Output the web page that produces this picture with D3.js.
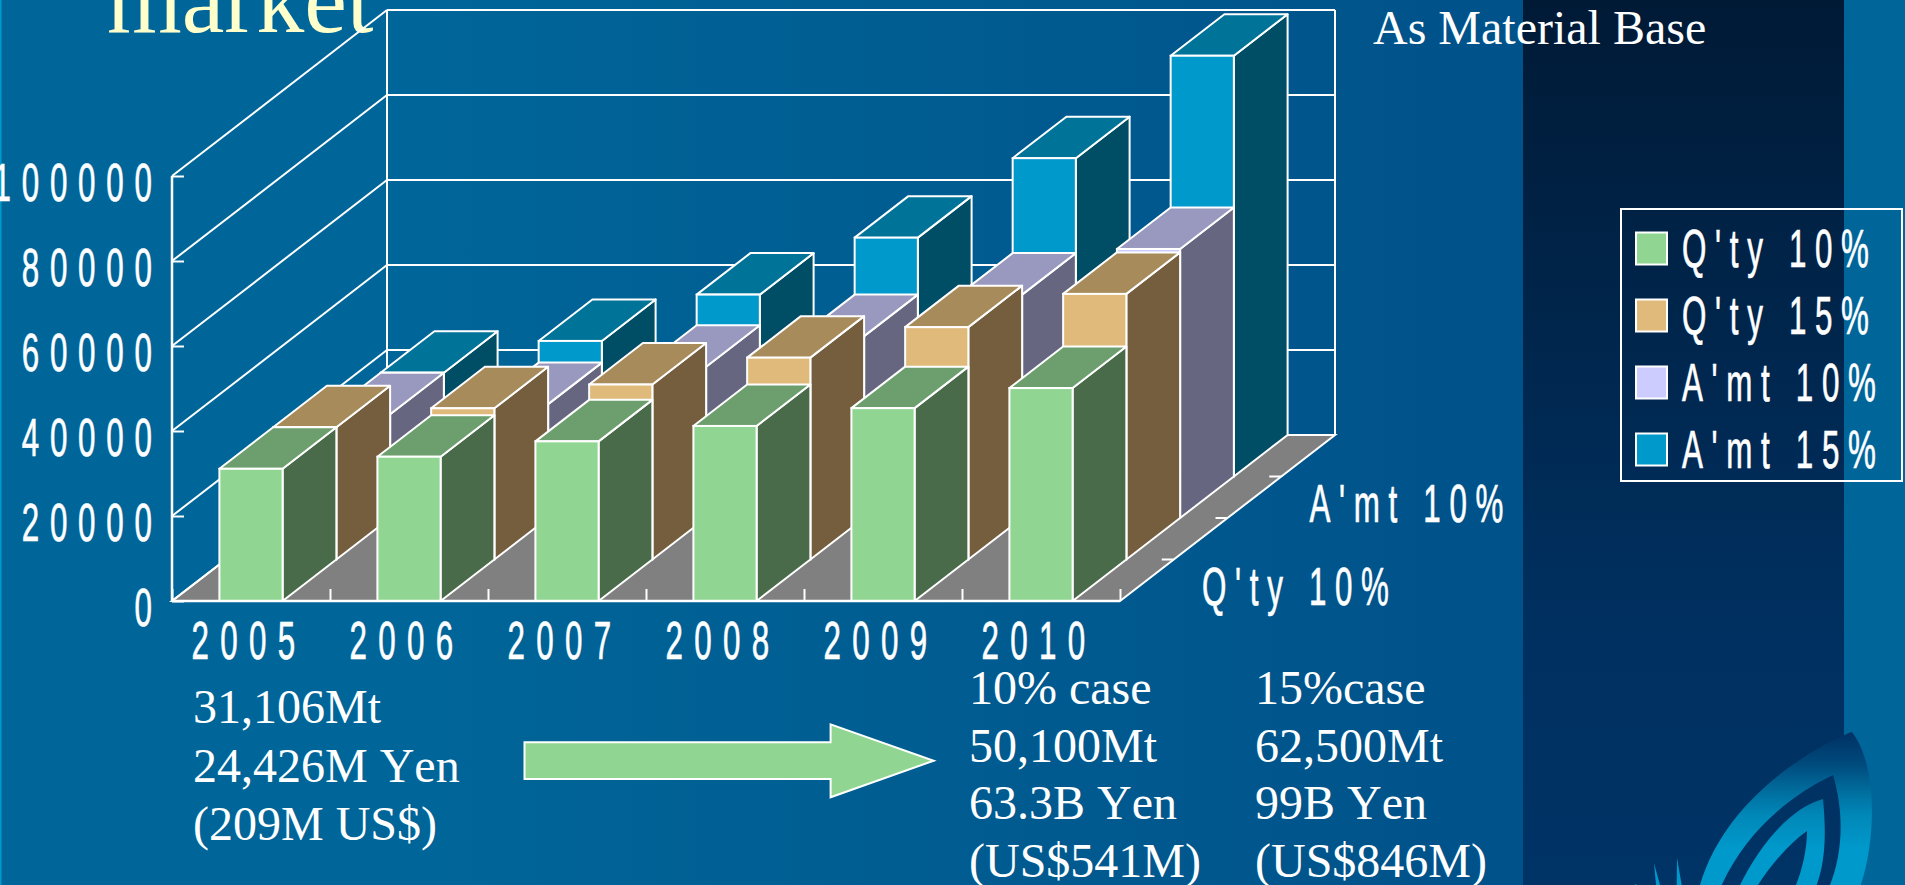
<!DOCTYPE html>
<html>
<head>
<meta charset="utf-8">
<script src="https://cdnjs.cloudflare.com/ajax/libs/d3/7.8.5/d3.min.js"></script>
<style>
html,body{margin:0;padding:0;background:#006699;overflow:hidden}
svg{display:block}
.label{font-family:"Liberation Sans",Arial,sans-serif;fill:#fff;stroke:#fff;stroke-width:0.7px}
.serif{font-family:"Liberation Serif","Times New Roman",serif;font-size:48px;fill:#fff;font-kerning:none}
</style>
</head>
<body>
<script>
// values
var years = ["2005","2006","2007","2008","2009","2010"];
var seriesNames = ["Q'ty 10%","Q'ty 15%","A'mt 10%","A'mt 15%"];
var qty10 = [31106,33950,37560,41190,45380,50100];
var qty15 = [31106,35580,41170,47500,54670,62500];
var amt10 = [24426,26800,35600,42800,52560,63300];
var amt15 = [24426,31900,42800,56200,74900,99000];
var yTicks = [0,20000,40000,60000,80000,100000];
var depthLabels = ["Q'ty 10%","A'mt 10%"];
var leftNote = ["31,106Mt","24,426M Yen","(209M US$)"];
var case10 = ["10% case","50,100Mt","63.3B Yen","(US$541M)"];
var case15 = ["15%case","62,500Mt","99B Yen","(US$846M)"];

var seriesValues = [qty10,qty15,amt10,amt15];
var faceColors = ["#90d692","#e0ba7a","#ccccff","#0099cc"];
var sideColors = ["#496b49","#755e3d","#666680","#004d66"];
var topColors = ["#6c9f6d","#a88b5b","#9999bf","#007399"];

var width = 1905, height = 885, lineW = 2;
var svg = d3.select("body").append("svg").attr("width",width).attr("height",height);
var defs = svg.append("defs");

var bg = defs.append("linearGradient").attr("id","bg");
bg.append("stop").attr("offset","0.25").attr("stop-color","#006699");
bg.append("stop").attr("offset","0.95").attr("stop-color","#00538a");

var panel = defs.append("linearGradient").attr("id","panel").attr("x2",0).attr("y2",1);
panel.append("stop").attr("offset","0").attr("stop-color","#001a36");
panel.append("stop").attr("offset","0.7").attr("stop-color","#003060");
panel.append("stop").attr("offset","1").attr("stop-color","#003366");

var leaf = defs.append("linearGradient").attr("id","leaf")
	.attr("gradientUnits","userSpaceOnUse").attr("x1",0).attr("y1",735).attr("x2",0).attr("y2",850);
leaf.append("stop").attr("offset","0").attr("stop-color","#003366");
leaf.append("stop").attr("offset","0.25").attr("stop-color","#004a7c");
leaf.append("stop").attr("offset","0.5").attr("stop-color","#006f9f");
leaf.append("stop").attr("offset","0.7").attr("stop-color","#0088b8");
leaf.append("stop").attr("offset","1").attr("stop-color","#0099cc");

// background
svg.append("rect").attr("width",width).attr("height",height).attr("fill","#006699");
svg.append("rect").attr("width",1523).attr("height",height).attr("fill","url(#bg)");
svg.append("rect").attr("x",1523).attr("width",321).attr("height",height).attr("fill","url(#panel)");
svg.append("rect").attr("width",1.5).attr("height",height).attr("fill","#0099cc");

// leaf logo
svg.append("path").attr("fill","url(#leaf)")
	.attr("d","M1851.7,731.7 C1808,750 1725,800 1700,885 L1721.7,885 C1745,835 1785,798 1833,775 C1845,815 1842,855 1830,885 L1860.7,885 C1876,840 1878,765 1851.7,731.7 Z");
svg.append("path").attr("fill","url(#leaf)")
	.attr("d","M1823,799 C1790,808 1760,845 1740,885 L1758,885 C1773,862 1790,843 1807,831 C1807,850 1802,870 1796,885 L1816.7,885 C1826,860 1826,830 1823,799 Z");
svg.append("path").attr("fill","#0099cc")
	.attr("d","M1677,857.7 L1681.7,885 L1676.7,885 Z M1654,863 L1660,885 L1656,885 Z M1635,884 L1637,885 L1635,885 Z");

// title
svg.append("text").attr("x",107).attr("y",32)
	.style("font-family","'Liberation Serif','Times New Roman',serif")
	.style("font-size","96px").attr("fill","#ffffcc").text("market");
svg.append("text").attr("class","serif").attr("x",1373).attr("y",44).text("As Material Base");

// scales
var x = d3.scaleBand().domain(years).range([172,1120]).paddingInner(0.6).paddingOuter(0.3);
var catEdge = d3.scaleLinear().domain([0,years.length]).range([172,1120]);
var y = d3.scaleLinear().domain([0,100000]).range([601,176]);
var depthX = d3.scaleBand().domain(seriesNames).range([0,215]);
var depthY = d3.scaleBand().domain(seriesNames).range([0,166]);
var fullX = 215, fullY = 166;

var chart = svg.append("g");

// floor
chart.append("path").attr("fill","#808080").attr("stroke","#fff").attr("stroke-width",lineW)
	.attr("d","M"+[[172,y(0)],[1120,y(0)],[1120+fullX,y(0)-fullY],[172+fullX,y(0)-fullY]].join("L")+"Z");

// walls
yTicks.forEach(function(t){
	if(t>0){
		chart.append("line").attr("x1",172+fullX).attr("x2",1120+fullX)
			.attr("y1",y(t)-fullY).attr("y2",y(t)-fullY)
			.attr("stroke","#fff").attr("stroke-width",lineW);
	}
	chart.append("line").attr("x1",172).attr("x2",172+fullX)
		.attr("y1",y(t)).attr("y2",y(t)-fullY)
		.attr("stroke","#fff").attr("stroke-width",lineW);
});
[172+fullX,1120+fullX].forEach(function(vx){
	chart.append("line").attr("x1",vx).attr("x2",vx)
		.attr("y1",y(0)-fullY).attr("y2",y(100000)-fullY)
		.attr("stroke","#fff").attr("stroke-width",lineW);
});

// category ticks on the floor
var edgeAxis = d3.axisBottom(catEdge).ticks(years.length).tickSize(-12).tickFormat("");
chart.append("g").attr("transform","translate(0,"+y(0)+")").call(edgeAxis)
	.call(function(g){ g.select(".domain").remove(); })
	.selectAll("line").attr("stroke","#fff").attr("stroke-width",lineW);

// depth ticks on the right edge of the floor
seriesNames.forEach(function(n){
	var px = 1120+depthX(n), py = y(0)-depthY(n);
	chart.append("line").attr("x1",px-12).attr("x2",px).attr("y1",py).attr("y2",py)
		.attr("stroke","#fff").attr("stroke-width",lineW);
});

// bars, back row first
function drawBars(){
	for(var s=seriesNames.length-1;s>=0;s--){
		var name = seriesNames[s];
		var dx = depthX(name), dy = depthY(name);
		var stepX = depthX.step(), stepY = depthY.step();
		var w = x.bandwidth();
		var row = chart.append("g").attr("class","row");
		years.forEach(function(yr,i){
			var x0 = x(yr)+dx, x1 = x0+w;
			var base = y(0)-dy, top = y(seriesValues[s][i])-dy;
			// side
			row.append("path").attr("fill",sideColors[s]).attr("stroke","#fff").attr("stroke-width",lineW)
				.attr("stroke-linejoin","round")
				.attr("d","M"+[[x1,base],[x1,top],[x1+stepX,top-stepY],[x1+stepX,base-stepY]].join("L")+"Z");
			// top
			row.append("path").attr("fill",topColors[s]).attr("stroke","#fff").attr("stroke-width",lineW)
				.attr("stroke-linejoin","round")
				.attr("d","M"+[[x0,top],[x1,top],[x1+stepX,top-stepY],[x0+stepX,top-stepY]].join("L")+"Z");
			// front
			row.append("rect").attr("x",x0).attr("y",top).attr("width",w).attr("height",base-top)
				.attr("fill",faceColors[s]).attr("stroke","#fff").attr("stroke-width",lineW);
		});
	}
}
drawBars();

// front left axis
chart.append("line").attr("x1",172).attr("x2",172).attr("y1",y(0)).attr("y2",y(100000))
	.attr("stroke","#fff").attr("stroke-width",2.5);
chart.append("line").attr("x1",172).attr("x2",1120).attr("y1",y(0)).attr("y2",y(0))
	.attr("stroke","#fff").attr("stroke-width",2.5);

// y axis
var yAxis = d3.axisLeft(y).tickValues(yTicks).tickSize(-12).tickFormat(d3.format("d"));
var yg = chart.append("g").attr("transform","translate(172,0)").call(yAxis);
yg.select(".domain").remove();
yg.selectAll("line").attr("stroke","#fff").attr("stroke-width",lineW);
yg.selectAll("text").attr("class","label").attr("x",null).attr("dy",null)
	.attr("text-anchor","end")
	.attr("transform","translate(-9.3,24) scale(0.58,1)")
	.style("font-size","54px").style("letter-spacing","18.6px");

// x axis
var xAxis = d3.axisBottom(x).tickSize(0);
var xg = chart.append("g").attr("transform","translate(0,"+y(0)+")").call(xAxis);
xg.select(".domain").remove();
xg.selectAll("text").attr("class","label").attr("y",null).attr("dy",null)
	.attr("text-anchor","middle")
	.attr("transform","translate(-2,58) scale(0.58,1)")
	.style("font-size","54px").style("letter-spacing","19.6px");

// depth labels
depthLabels.forEach(function(n){
	chart.append("text").attr("class","label")
		.attr("transform","translate("+(1120+depthX(n)+82)+","+(y(0)-depthY(n)+4)+") scale(0.58,1)")
		.style("font-size","54px").style("letter-spacing","15px").text(n);
});

// legend
var legendY = d3.scaleBand().domain(seriesNames).range([216,484]);
var legend = svg.append("g");
legend.append("rect").attr("x",1621).attr("y",209).attr("width",281).attr("height",272)
	.attr("fill","none").attr("stroke","#fff").attr("stroke-width",lineW);
seriesNames.forEach(function(n,i){
	var ly = legendY(n);
	legend.append("rect").attr("x",1636).attr("y",ly+16.5).attr("width",31).attr("height",32)
		.attr("fill",faceColors[i]).attr("stroke","#fff").attr("stroke-width",lineW);
	legend.append("text").attr("class","label")
		.attr("transform","translate(1682,"+(ly+51)+") scale(0.58,1)")
		.style("font-size","54px").style("letter-spacing","15px").text(n);
});

// arrow
svg.append("path").attr("fill","#90d692").attr("stroke","#fff").attr("stroke-width",lineW)
	.attr("d","M524.5,742.3L830.6,742.3L830.6,724.3L933.7,760.7L830.6,797.3L830.6,779L524.5,779Z");

// notes
leftNote.forEach(function(t,i){
	svg.append("text").attr("class","serif").attr("x",193).attr("y",723+i*58.5).text(t);
});
case10.forEach(function(t,i){
	svg.append("text").attr("class","serif").attr("x",969).attr("y",704.3+i*57.5).text(t);
});
case15.forEach(function(t,i){
	svg.append("text").attr("class","serif").attr("x",1255).attr("y",704.3+i*57.5).text(t);
});
</script>
</body>
</html>
